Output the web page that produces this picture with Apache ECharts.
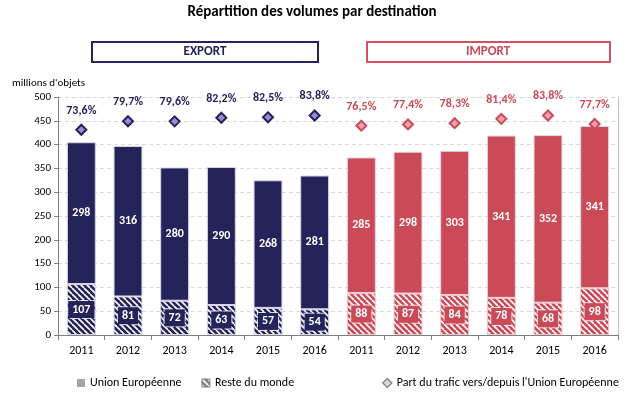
<!DOCTYPE html>
<html>
<head>
<meta charset="utf-8">
<script src="https://cdn.jsdelivr.net/npm/echarts@6/dist/echarts.min.js"></script>
<style>
  html, body { margin: 0; padding: 0; background: #fff; }
  #chart { width: 632px; height: 396px; }
</style>
</head>
<body>
<div id="chart"></div>
<script>
// donnees
const years = ["2011", "2012", "2013", "2014", "2015", "2016"];
const exportUE = [298, 316, 280, 290, 268, 281];
const exportReste = [107, 81, 72, 63, 57, 54];
const importUE = [285, 298, 303, 341, 352, 341];
const importReste = [88, 87, 84, 78, 68, 98];
const exportPart = [73.6, 79.7, 79.6, 82.2, 82.5, 83.8];
const importPart = [76.5, 77.4, 78.3, 81.4, 83.8, 77.7];
const yTicks = [0, 50, 100, 150, 200, 250, 300, 350, 400, 450, 500];

const NAVY = "#24235a";
const RED = "#cb4a57";
const FONT = "Carlito, Lato, 'Liberation Sans', sans-serif";

// motif hachure (blanc sur couleur)
function hatch(bg) {
  const c = document.createElement("canvas");
  c.width = 6;
  c.height = 6;
  const ctx = c.getContext("2d");
  ctx.fillStyle = bg;
  ctx.fillRect(0, 0, 6, 6);
  ctx.strokeStyle = "#fff";
  ctx.lineWidth = 1.6;
  for (let k = -6; k <= 6; k += 6) {
    ctx.beginPath();
    ctx.moveTo(k, 0);
    ctx.lineTo(k + 6, 6);
    ctx.stroke();
  }
  return { image: c, repeat: "repeat" };
}

const categories = years.concat(years);
const navyHatch = hatch(NAVY);
const redHatch = hatch(RED);
const grayHatch = hatch("#7f7f7f");

const resteData = exportReste.map((v) => ({
  value: v,
  itemStyle: { color: navyHatch, borderColor: "#d6d4ea" },
  label: { backgroundColor: NAVY },
})).concat(importReste.map((v) => ({
  value: v,
  itemStyle: { color: redHatch, borderColor: "#f0c6cc" },
  label: { backgroundColor: RED },
})));

const ueData = exportUE.map((v) => ({
  value: v,
  itemStyle: { color: NAVY, borderColor: "#d6d4ea" },
})).concat(importUE.map((v) => ({
  value: v,
  itemStyle: { color: RED, borderColor: "#e2d6e4" },
})));

const partData = exportPart.map((v) => ({
  value: v,
  itemStyle: { color: "#8f90d2", borderColor: NAVY },
  label: { color: NAVY },
})).concat(importPart.map((v) => ({
  value: v,
  itemStyle: { color: "#eba2ab", borderColor: RED },
  label: { color: RED },
})));

const chart = echarts.init(document.getElementById("chart"));

const option = {
  backgroundColor: "#fff",
  animation: false,
  textStyle: { fontFamily: FONT },
  title: {
    text: "Répartition des volumes par destination",
    left: 307,
    textAlign: "center",
    top: 0,
    textStyle: { fontFamily: FONT, fontSize: 15, fontWeight: "bold", color: "#000" },
  },
  grid: { left: 58, right: 14, top: 97, bottom: 61 },
  legend: [
    {
      left: 72,
      top: 372,
      itemWidth: 8,
      itemHeight: 8,
      itemGap: 20,
      textStyle: { fontFamily: FONT, fontSize: 12, color: "#000" },
      data: [
        { name: "Union Européenne", icon: "rect", itemStyle: { color: "#a5a5a5", borderWidth: 0 } },
        { name: "Reste du monde", icon: "rect", itemStyle: { color: grayHatch, borderColor: "#7f7f7f", borderWidth: 1 } },
      ],
    },
    {
      left: 377,
      top: 372,
      itemWidth: 9,
      itemHeight: 9,
      textStyle: { fontFamily: FONT, fontSize: 12, color: "#000" },
      data: [
        { name: "Part du trafic vers/depuis l'Union Européenne", icon: "diamond",
          itemStyle: { color: "#d9d9d9", borderColor: "#8a8a8a", borderWidth: 1.5, opacity: 1 } },
      ],
    },
  ],
  xAxis: {
    type: "category",
    data: categories,
    axisLine: { lineStyle: { color: "#7f7f7f" } },
    axisTick: { show: true, length: 5, lineStyle: { color: "#7f7f7f" } },
    axisLabel: { color: "#000", fontSize: 12, margin: 10, fontFamily: FONT },
  },
  yAxis: [
    {
      type: "value",
      min: yTicks[0],
      max: yTicks[yTicks.length - 1],
      interval: 50,
      axisLine: { show: true, lineStyle: { color: "#7f7f7f" } },
      axisTick: { show: true, length: 4, lineStyle: { color: "#7f7f7f" } },
      axisLabel: { color: "#000", fontSize: 11, margin: 7, fontFamily: FONT },
      splitLine: { lineStyle: { color: "#d9d9d9", type: [4, 3] } },
    },
    {
      type: "value",
      min: -73,
      max: 97,
      position: "right",
      axisLine: { show: true, lineStyle: { color: "#bfbfbf" } },
      axisTick: { show: false },
      axisLabel: { show: false },
      splitLine: { show: false },
    },
  ],
  series: [
    {
      name: "Reste du monde",
      type: "bar",
      stack: "vol",
      barWidth: "62%",
      data: resteData,
      itemStyle: { borderWidth: 1 },
      label: {
        show: true,
        position: "inside",
        color: "#fff",
        fontWeight: "bold",
        fontSize: 12,
        fontFamily: FONT,
        padding: [3, 4, 2, 4],
        borderColor: "#e8e8f0",
        borderWidth: 1,
        borderType: "dashed",
      },
    },
    {
      name: "Union Européenne",
      type: "bar",
      stack: "vol",
      data: ueData,
      itemStyle: { borderWidth: 1 },
      label: {
        show: true,
        position: "inside",
        color: "#fff",
        fontWeight: "bold",
        fontSize: 12,
        fontFamily: FONT,
      },
    },
    {
      name: "Part du trafic vers/depuis l'Union Européenne",
      type: "scatter",
      yAxisIndex: 1,
      symbol: "diamond",
      symbolSize: 10,
      data: partData,
      itemStyle: { borderWidth: 2, opacity: 1 },
      label: {
        show: true,
        position: "top",
        distance: 7,
        fontWeight: "bold",
        fontSize: 12,
        fontFamily: FONT,
        formatter: (p) => p.value.toFixed(1).replace(".", ",") + "%",
      },
    },
  ],
  graphic: [
    {
      type: "text",
      left: 12,
      top: 78,
      style: { text: "millions d'objets", fontSize: 11, fill: "#000", fontFamily: FONT },
    },
    {
      type: "rect",
      shape: { x: 92, y: 42, width: 226, height: 20 },
      style: { fill: "#fff", stroke: NAVY, lineWidth: 2 },
    },
    {
      type: "text",
      x: 205,
      y: 52,
      style: { text: "EXPORT", fill: NAVY, fontSize: 13, fontWeight: "bold", fontFamily: FONT,
               align: "center", verticalAlign: "middle" },
    },
    {
      type: "rect",
      shape: { x: 367, y: 42, width: 243, height: 20 },
      style: { fill: "#fff", stroke: "#d5505e", lineWidth: 2 },
    },
    {
      type: "text",
      x: 488,
      y: 52,
      style: { text: "IMPORT", fill: RED, fontSize: 13, fontWeight: "bold", fontFamily: FONT,
               align: "center", verticalAlign: "middle" },
    },
  ],
};

chart.setOption(option);
</script>
</body>
</html>
